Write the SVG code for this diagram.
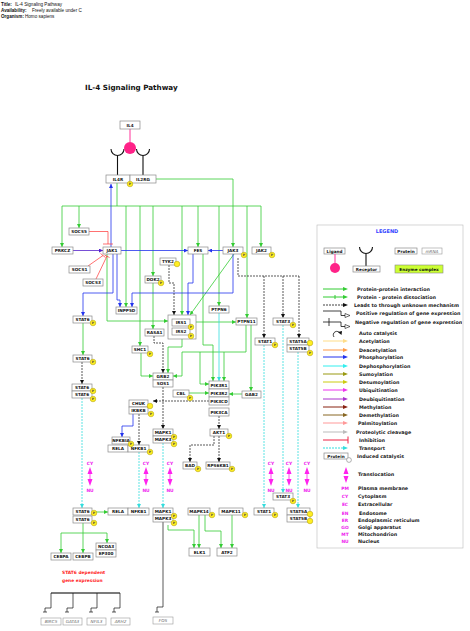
<svg xmlns="http://www.w3.org/2000/svg" width="470" height="631" viewBox="0 0 470 631">
<style>
text{font-family:"DejaVu Sans",sans-serif}
.hd{font-family:"Liberation Sans",Arial,sans-serif;font-size:4.6px;fill:#111}
.ttl{font-size:7.2px;font-weight:bold;fill:#111}
.n rect{fill:#fff;stroke:#8a8a8a;stroke-width:.7}
.n text{font-size:4.2px;font-weight:bold;text-anchor:middle;fill:#111}
.gn rect{fill:#fff;stroke:#999;stroke-width:.6}
.gn text{font-size:4.2px;font-style:italic;text-anchor:middle;fill:#666}
.pc{fill:#ffee22;stroke:#aa9900;stroke-width:.5}
.pt{font-size:3.2px;font-weight:bold;text-anchor:middle;fill:#444}
.g{fill:none;stroke:#33cc33;stroke-width:.8}
.b{fill:none;stroke:#2233ee;stroke-width:.8}
.k{fill:none;stroke:#111;stroke-width:.7;stroke-dasharray:2 1}
.c{fill:none;stroke:#33dddd;stroke-width:.8;stroke-dasharray:2 1}
.cs{fill:none;stroke:#33dddd;stroke-width:.8}
.r{fill:none;stroke:#ff3333;stroke-width:.7}
.bl{fill:none;stroke:#111;stroke-width:.7}
.m{font-size:4.4px;font-weight:bold;fill:#ee22ee;text-anchor:middle}
.lg{font-size:4.8px;font-weight:bold;fill:#222}
.tr{fill:#ff22ee}
</style>
<defs>
<marker id="ag" viewBox="0 0 4 4" refX="4" refY="2" markerWidth="4" markerHeight="4" markerUnits="userSpaceOnUse" orient="auto"><path d="M0,0L4,2L0,4z" fill="#33cc33"/></marker>
<marker id="ab" viewBox="0 0 4 4" refX="4" refY="2" markerWidth="4" markerHeight="4" markerUnits="userSpaceOnUse" orient="auto"><path d="M0,0L4,2L0,4z" fill="#2233ee"/></marker>
<marker id="ak" viewBox="0 0 4 4" refX="4" refY="2" markerWidth="4" markerHeight="4" markerUnits="userSpaceOnUse" orient="auto"><path d="M0,0L4,2L0,4z" fill="#111"/></marker>
<marker id="ac" viewBox="0 0 4 4" refX="4" refY="2" markerWidth="4" markerHeight="4" markerUnits="userSpaceOnUse" orient="auto"><path d="M0,0L4,2L0,4z" fill="#33dddd"/></marker>
<marker id="ap" viewBox="0 0 4 4" refX="4" refY="2" markerWidth="4" markerHeight="4" markerUnits="userSpaceOnUse" orient="auto"><path d="M0,0L4,2L0,4z" fill="#5522cc"/></marker>
<clipPath id="lgclip"><rect x="318" y="226" width="144" height="321"/></clipPath>
</defs>

<g id="header">
<text class="hd" x="1" y="6"><tspan font-weight="bold">Title:</tspan><tspan x="15">IL-4 Signaling Pathway</tspan></text>
<text class="hd" x="1" y="12"><tspan font-weight="bold">Availability:</tspan><tspan x="32">Freely available under C</tspan></text>
<text class="hd" x="1" y="18"><tspan font-weight="bold">Organism:</tspan><tspan x="25">Homo sapiens</tspan></text>
<text class="ttl" x="85" y="90">IL-4 Signaling Pathway</text>
</g>

<g id="connectors">
<path d="M130,129V142" stroke="#ff3399" stroke-width="1"/>
<path d="M111,149A6.5,6.5 0 0 0 124,149M117.5,155.5V175M136.5,149A6.5,6.5 0 0 0 149.5,149M143,155.5V175" fill="none" stroke="#111" stroke-width="1.1"/>
<path class="g" d="M156,179H233V247" marker-end="url(#ag)"/>
<path class="g" d="M117,183V206M62,206H261"/>
<path class="g" d="M62,206V247" marker-end="url(#ag)"/>
<path class="g" d="M79,206V228" marker-end="url(#ag)"/>
<path class="g" d="M126,206V307" marker-end="url(#ag)"/>
<path class="g" d="M140,206V346" marker-end="url(#ag)"/>
<path class="g" d="M153,206V276" marker-end="url(#ag)"/>
<path class="g" d="M182,206V315" marker-end="url(#ag)"/>
<path class="g" d="M198,206V247" marker-end="url(#ag)"/>
<path class="g" d="M219,206V306" marker-end="url(#ag)"/>
<path class="g" d="M247,206V318" marker-end="url(#ag)"/>
<path class="g" d="M261,206V247" marker-end="url(#ag)"/>
<path class="g" d="M153,283V329" marker-end="url(#ag)"/>
<path class="g" d="M107,254V321H168" marker-end="url(#ag)"/>
<path class="g" d="M234,254L190,315" marker-end="url(#ag)"/>
<path class="g" d="M196,322H236" marker-end="url(#ag)"/>
<path class="g" d="M83,323V355" marker-end="url(#ag)"/>
<path class="g" d="M141,353V376H153" marker-end="url(#ag)"/>
<path class="g" d="M182,339V347H168V373" marker-end="url(#ag)"/>
<path class="g" d="M246,325V352H182V376H173" marker-end="url(#ag)"/>
<path class="g" d="M200,352V384H209" marker-end="url(#ag)"/>
<path class="g" d="M224,352V381" marker-end="url(#ag)"/>
<path class="g" d="M203,254V345H213V381" marker-end="url(#ag)"/>
<path class="g" d="M251,325V391" marker-end="url(#ag)"/>
<path class="g" d="M189,393H209" marker-end="url(#ag)"/>
<path class="g" d="M242,394H229" marker-end="url(#ag)"/>
<path class="g" d="M96,512H108" marker-end="url(#ag)"/>
<path class="g" d="M83,523V533M61,533H107"/>
<path class="g" d="M61,533V553" marker-end="url(#ag)"/>
<path class="g" d="M83,533V553" marker-end="url(#ag)"/>
<path class="g" d="M107,533V543" marker-end="url(#ag)"/>
<path class="g" d="M168,525V530H194V548" marker-end="url(#ag)"/>
<path class="g" d="M199,515V548" marker-end="url(#ag)"/>
<path class="g" d="M205,515V531H221V548" marker-end="url(#ag)"/>
<path class="g" d="M232,515V548" marker-end="url(#ag)"/>
<path class="b" d="M111,247V184" marker-end="url(#ab)"/>
<path class="b" d="M121,250.5H188" marker-end="url(#ab)"/>
<path class="b" d="M223,250.5H208" marker-end="url(#ab)"/>
<path class="b" d="M113,254V293H83V316" marker-end="url(#ab)"/>
<path class="b" d="M117,254V300H120V307" marker-end="url(#ab)"/>
<path class="b" d="M233,254V293H132V307" marker-end="url(#ab)"/>
<path class="b" d="M193,254V283H188V315" marker-end="url(#ab)"/>
<path class="b" d="M133,414V426H122V437" marker-end="url(#ab)"/>
<path d="M73,250.5H103" fill="none" stroke="#5522cc" stroke-width=".8" marker-end="url(#ap)"/>
<path class="r" d="M89,231.5H108V244M103,244H113"/>
<path class="r" d="M88,266L103,255.5M100.5,253.5L105.5,257.5"/>
<path class="r" d="M96,279L107,256M104.5,255L109.5,257.5"/>
<path class="k" d="M169,265V283H174V315" marker-end="url(#ak)"/>
<path class="k" d="M238,258V276H299"/>
<path class="k" d="M264,276V338" marker-end="url(#ak)"/>
<path class="k" d="M283,276V318" marker-end="url(#ak)"/>
<path class="k" d="M299,276V338" marker-end="url(#ak)"/>
<path class="k" d="M154,336V343H163V373" marker-end="url(#ak)"/>
<path class="k" d="M82,362V384" marker-end="url(#ak)"/>
<path class="k" d="M163,387V429" marker-end="url(#ak)"/>
<path class="k" d="M209,401H153" marker-end="url(#ak)"/>
<path class="k" d="M219,416V429" marker-end="url(#ak)"/>
<path class="k" d="M214,436V445H190V462" marker-end="url(#ak)"/>
<path class="k" d="M219,436V462" marker-end="url(#ak)"/>
<path class="k" d="M139,414V445" marker-end="url(#ak)"/>
<path class="cs" d="M219,313V381" marker-end="url(#ac)"/>
<path class="c" d="M82,398V508" marker-end="url(#ac)"/>
<path class="c" d="M139,452V508" marker-end="url(#ac)"/>
<path class="c" d="M163,443V508" marker-end="url(#ac)"/>
<path class="c" d="M264,345V508" marker-end="url(#ac)"/>
<path class="c" d="M283,325V493" marker-end="url(#ac)"/>
<path class="c" d="M298,352V508" marker-end="url(#ac)"/>
<path class="bl" d="M163,522V607H157V612M155,612H159"/>
<path d="M51,593H120" stroke="#999" stroke-width="1.8"/>
<path d="M51,593H120" stroke="#222" stroke-width=".5"/>
<path class="bl" d="M51,593V608H45V612M43,612H47M73,593V608H67V612M65,612H69M97,593V608H91V612M89,612H93M120,593V608H114V612M112,612H116"/>
</g>

<g id="translocations">
<text class="m" x="90" y="465">CY</text><path class="tr" d="M90,467L92.5,474H87.5ZM90,486L92.5,479H87.5Z"/><path d="M90,473V480" stroke="#ff22ee" stroke-width=".8"/><text class="m" x="90" y="492">NU</text>
<text class="m" x="146" y="465">CY</text><path class="tr" d="M146,467L148.5,474H143.5ZM146,486L148.5,479H143.5Z"/><path d="M146,473V480" stroke="#ff22ee" stroke-width=".8"/><text class="m" x="146" y="492">NU</text>
<text class="m" x="170" y="465">CY</text><path class="tr" d="M170,467L172.5,474H167.5ZM170,486L172.5,479H167.5Z"/><path d="M170,473V480" stroke="#ff22ee" stroke-width=".8"/><text class="m" x="170" y="492">NU</text>
<text class="m" x="271" y="465">CY</text><path class="tr" d="M271,467L273.5,474H268.5ZM271,486L273.5,479H268.5Z"/><path d="M271,473V480" stroke="#ff22ee" stroke-width=".8"/><text class="m" x="271" y="492">NU</text>
<text class="m" x="289" y="465">CY</text><path class="tr" d="M289,467L291.5,474H286.5ZM289,486L291.5,479H286.5Z"/><path d="M289,473V480" stroke="#ff22ee" stroke-width=".8"/><text class="m" x="289" y="492">NU</text>
<text class="m" x="307" y="465">CY</text><path class="tr" d="M307,467L309.5,474H304.5ZM307,486L309.5,479H304.5Z"/><path d="M307,473V480" stroke="#ff22ee" stroke-width=".8"/><text class="m" x="307" y="492">NU</text>
</g>

<circle cx="130" cy="148" r="6" fill="#ff2288"/>
<g id="IL4" class="n"><rect x="120" y="121" width="20" height="8"/><text x="130" y="126.5">IL4</text></g>
<g id="IL4R" class="n"><rect x="106" y="175" width="24" height="8"/><text x="118" y="180.5">IL4R</text></g>
<g id="IL2RG" class="n"><rect x="130" y="175" width="26" height="8"/><text x="143" y="180.5">IL2RG</text></g>
<g id="SOCS5" class="n"><rect x="69" y="228" width="20" height="7"/><text x="79" y="233">SOCS5</text></g>
<g id="PRKCZ" class="n"><rect x="52" y="247" width="21" height="7"/><text x="62.5" y="252">PRKCZ</text></g>
<g id="JAK1" class="n"><rect x="103" y="247" width="18" height="7"/><text x="112" y="252">JAK1</text></g>
<g id="SOCS1" class="n"><rect x="69" y="266" width="21" height="7"/><text x="79.5" y="271">SOCS1</text></g>
<g id="SOCS3" class="n"><rect x="83" y="279" width="20" height="7"/><text x="93" y="284">SOCS3</text></g>
<g id="TYK2" class="n"><rect x="160" y="258" width="16" height="7"/><text x="168" y="263">TYK2</text></g>
<g id="DOK2" class="n"><rect x="145" y="276" width="16" height="7"/><text x="153" y="281">DOK2</text></g>
<g id="FES" class="n"><rect x="188" y="247" width="20" height="7"/><text x="198" y="252">FES</text></g>
<g id="JAK3" class="n"><rect x="223" y="247" width="20" height="7"/><text x="233" y="252">JAK3</text></g>
<g id="JAK2" class="n"><rect x="252" y="247" width="19" height="7"/><text x="261.5" y="252">JAK2</text></g>
<g id="INPP5D" class="n"><rect x="116" y="307" width="21" height="7"/><text x="126.5" y="312">INPP5D</text></g>
<g id="STAT6-1" class="n"><rect x="73" y="316" width="19" height="7"/><text x="82.5" y="321">STAT6</text></g>
<g id="IRS" class="n"><rect x="168" y="315" width="28" height="24"/><rect x="172" y="319" width="18" height="7"/><text x="181" y="324">IRS1</text><rect x="172" y="328" width="18" height="7"/><text x="181" y="333">IRS2</text></g>
<g id="PTPN6" class="n"><rect x="209" y="306" width="20" height="7"/><text x="219" y="311">PTPN6</text></g>
<g id="PTPN11" class="n"><rect x="236" y="318" width="21" height="7"/><text x="246.5" y="323">PTPN11</text></g>
<g id="STAT3-1" class="n"><rect x="273" y="318" width="20" height="7"/><text x="283" y="323">STAT3</text></g>
<g id="RASA1" class="n"><rect x="145" y="329" width="19" height="7"/><text x="154.5" y="334">RASA1</text></g>
<g id="STAT1-1" class="n"><rect x="255" y="338" width="20" height="7"/><text x="265" y="343">STAT1</text></g>
<g id="STAT5-1" class="n"><rect x="287" y="338" width="22" height="7"/><text x="298" y="343">STAT5A</text><rect x="287" y="345" width="22" height="7"/><text x="298" y="350">STAT5B</text></g>
<g id="SHC1" class="n"><rect x="132" y="346" width="16" height="7"/><text x="140" y="351">SHC1</text></g>
<g id="STAT6-2" class="n"><rect x="73" y="355" width="19" height="7"/><text x="82.5" y="360">STAT6</text></g>
<g id="GRB2-SOS1" class="n"><rect x="153" y="373" width="20" height="7"/><text x="163" y="378">GRB2</text><rect x="153" y="380" width="20" height="7"/><text x="163" y="385">SOS1</text></g>
<g id="STAT6-3" class="n"><rect x="72" y="384" width="20" height="7"/><text x="82" y="389">STAT6</text><rect x="72" y="391" width="20" height="7"/><text x="82" y="396">STAT6</text></g>
<g id="PIK3" class="n"><rect x="209" y="381" width="20" height="8"/><text x="219" y="386.5">PIK3R1</text><rect x="209" y="389" width="20" height="8"/><text x="219" y="394.5">PIK3R2</text><rect x="209" y="397" width="20" height="8"/><text x="219" y="402.5">PIK3CD</text><rect x="209" y="408" width="20" height="8"/><text x="219" y="413.5">PIK3CA</text></g>
<g id="CBL" class="n"><rect x="173" y="390" width="16" height="7"/><text x="181" y="395">CBL</text></g>
<g id="GAB2" class="n"><rect x="242" y="391" width="19" height="7"/><text x="251.5" y="396">GAB2</text></g>
<g id="IKK" class="n"><rect x="129" y="400" width="19" height="7"/><text x="138.5" y="405">CHUK</text><rect x="129" y="407" width="19" height="7"/><text x="138.5" y="412">IKBKB</text></g>
<g id="MAPK-1" class="n"><rect x="153" y="429" width="20" height="7"/><text x="163" y="434">MAPK1</text><rect x="153" y="436" width="20" height="7"/><text x="163" y="441">MAPK3</text></g>
<g id="AKT1" class="n"><rect x="210" y="429" width="18" height="7"/><text x="219" y="434">AKT1</text></g>
<g id="NFKBIA" class="n"><rect x="112" y="437" width="18" height="7"/><text x="121" y="442">NFKBIA</text></g>
<g id="NFKB-1" class="n"><rect x="108" y="445" width="20" height="7"/><text x="118" y="450">RELA</text><rect x="128" y="445" width="21" height="7"/><text x="138.5" y="450">NFKB1</text></g>
<g id="BAD" class="n"><rect x="183" y="462" width="14" height="7"/><text x="190" y="467">BAD</text></g>
<g id="RPS6KB1" class="n"><rect x="206" y="462" width="24" height="7"/><text x="218" y="467">RPS6KB1</text></g>
<g id="STAT3-2" class="n"><rect x="273" y="493" width="20" height="7"/><text x="283" y="498">STAT3</text></g>
<g id="STAT6-4" class="n"><rect x="73" y="508" width="19" height="7"/><text x="82.5" y="513">STAT6</text><rect x="73" y="516" width="19" height="7"/><text x="82.5" y="521">STAT6</text></g>
<g id="NFKB-2" class="n"><rect x="108" y="508" width="20" height="7"/><text x="118" y="513">RELA</text><rect x="128" y="508" width="21" height="7"/><text x="138.5" y="513">NFKB1</text></g>
<g id="MAPK-2" class="n"><rect x="153" y="508" width="20" height="7"/><text x="163" y="513">MAPK1</text><rect x="153" y="515" width="20" height="7"/><text x="163" y="520">MAPK3</text></g>
<g id="MAPK14" class="n"><rect x="188" y="508" width="22" height="7"/><text x="199" y="513">MAPK14</text></g>
<g id="MAPK11" class="n"><rect x="219" y="508" width="24" height="7"/><text x="231" y="513">MAPK11</text></g>
<g id="STAT1-2" class="n"><rect x="254" y="508" width="20" height="7"/><text x="264" y="513">STAT1</text></g>
<g id="STAT5-2" class="n"><rect x="287" y="508" width="23" height="7"/><text x="298.5" y="513">STAT5A</text><rect x="287" y="515" width="23" height="7"/><text x="298.5" y="520">STAT5B</text></g>
<g id="ELK1" class="n"><rect x="189" y="548" width="21" height="8"/><text x="199.5" y="553.5">ELK1</text></g>
<g id="ATF2" class="n"><rect x="217" y="548" width="20" height="8"/><text x="227" y="553.5">ATF2</text></g>
<g id="NCOA3-EP300" class="n"><rect x="96" y="543" width="20" height="7"/><text x="106" y="548">NCOA3</text><rect x="96" y="550" width="20" height="7"/><text x="106" y="555">EP300</text></g>
<g id="CEBPA" class="n"><rect x="51" y="553" width="20" height="7"/><text x="61" y="558">CEBPA</text></g>
<g id="CEBPB" class="n"><rect x="73" y="553" width="20" height="7"/><text x="83" y="558">CEBPB</text></g>
<g id="BIRC5" class="gn"><rect x="41" y="618" width="20" height="7"/><text x="51" y="623">BIRC5</text></g>
<g id="GATA3" class="gn"><rect x="63" y="618" width="19" height="7"/><text x="72.5" y="623">GATA3</text></g>
<g id="NFIL3" class="gn"><rect x="87" y="618" width="19" height="7"/><text x="96.5" y="623">NFIL3</text></g>
<g id="ARH2" class="gn"><rect x="111" y="618" width="19" height="7"/><text x="120.5" y="623">ARH2</text></g>
<g id="FOS" class="gn"><rect x="153" y="617" width="20" height="7"/><text x="163" y="622">FOS</text></g>
<text x="62" y="574" font-size="4.4" font-weight="bold" fill="#ff2222">STAT6 dependent</text>
<text x="62" y="582" font-size="4.4" font-weight="bold" fill="#ff2222">gene expression</text>

<g id="phospho">
<circle class="pc" cx="130" cy="184" r="2.8"/><text class="pt" x="130" y="185.2">P</text>
<circle class="pc" cx="177" cy="264" r="2.8"/>
<circle class="pc" cx="161" cy="283" r="2.8"/><text class="pt" x="161" y="284.2">P</text>
<circle class="pc" cx="244" cy="255" r="2.8"/><text class="pt" x="244" y="256.2">P</text>
<circle class="pc" cx="272" cy="255" r="2.8"/><text class="pt" x="272" y="256.2">P</text>
<circle class="pc" cx="93" cy="323" r="2.8"/><text class="pt" x="93" y="324.2">P</text>
<circle class="pc" cx="191" cy="327" r="2.8"/><text class="pt" x="191" y="328.2">P</text>
<circle class="pc" cx="191" cy="336" r="2.8"/><text class="pt" x="191" y="337.2">P</text>
<circle class="pc" cx="293" cy="325" r="2.8"/><text class="pt" x="293" y="326.2">P</text>
<circle class="pc" cx="275" cy="345" r="2.8"/><text class="pt" x="275" y="346.2">P</text>
<circle class="pc" cx="310" cy="343" r="2.8"/>
<circle class="pc" cx="310" cy="353" r="2.8"/><text class="pt" x="310" y="354.2">P</text>
<circle class="pc" cx="150" cy="354" r="2.8"/><text class="pt" x="150" y="355.2">P</text>
<circle class="pc" cx="93" cy="362" r="2.8"/><text class="pt" x="93" y="363.2">P</text>
<circle class="pc" cx="93" cy="391" r="2.8"/><text class="pt" x="93" y="392.2">P</text>
<circle class="pc" cx="93" cy="399" r="2.8"/><text class="pt" x="93" y="400.2">P</text>
<circle class="pc" cx="190" cy="398" r="2.8"/><text class="pt" x="190" y="399.2">P</text>
<circle class="pc" cx="150" cy="406" r="2.8"/>
<circle class="pc" cx="151" cy="414" r="2.8"/><text class="pt" x="151" y="415.2">P</text>
<circle class="pc" cx="174" cy="437" r="2.8"/><text class="pt" x="174" y="438.2">P</text>
<circle class="pc" cx="174" cy="444" r="2.8"/><text class="pt" x="174" y="445.2">P</text>
<circle class="pc" cx="229" cy="436" r="2.8"/><text class="pt" x="229" y="437.2">P</text>
<circle class="pc" cx="131" cy="444" r="2.8"/><text class="pt" x="131" y="445.2">P</text>
<circle class="pc" cx="150" cy="452" r="2.8"/><text class="pt" x="150" y="453.2">P</text>
<circle class="pc" cx="198" cy="469" r="2.8"/><text class="pt" x="198" y="470.2">P</text>
<circle class="pc" cx="232" cy="469" r="2.8"/><text class="pt" x="232" y="470.2">P</text>
<circle class="pc" cx="293" cy="501" r="2.8"/><text class="pt" x="293" y="502.2">P</text>
<circle class="pc" cx="94" cy="513" r="2.8"/><text class="pt" x="94" y="514.2">P</text>
<circle class="pc" cx="94" cy="523" r="2.8"/><text class="pt" x="94" y="524.2">P</text>
<circle class="pc" cx="174" cy="516" r="2.8"/><text class="pt" x="174" y="517.2">P</text>
<circle class="pc" cx="174" cy="523" r="2.8"/><text class="pt" x="174" y="524.2">P</text>
<circle class="pc" cx="212" cy="515" r="2.8"/><text class="pt" x="212" y="516.2">P</text>
<circle class="pc" cx="245" cy="515" r="2.8"/><text class="pt" x="245" y="516.2">P</text>
<circle class="pc" cx="275" cy="515" r="2.8"/><text class="pt" x="275" y="516.2">P</text>
<circle class="pc" cx="310" cy="514" r="2.8"/>
<circle class="pc" cx="310" cy="521" r="2.8"/>
</g>

<g id="legend">
<rect x="317" y="225" width="146" height="323" fill="#fff" stroke="#bbb" stroke-width=".6"/>
<g clip-path="url(#lgclip)">
<text x="387" y="233" font-size="5" font-weight="bold" fill="#3344ff" text-anchor="middle">LEGEND</text>
<g class="n"><rect x="324" y="248" width="21" height="6"/><text x="334.5" y="252.5">Ligand</text></g>
<path d="M335,254V263" stroke="#ff3399" stroke-width="1"/><circle cx="335" cy="268" r="5" fill="#ff2288"/>
<path d="M359.5,247A6.5,6.5 0 0 0 372.5,247M366,253.5V266" fill="none" stroke="#111" stroke-width="1.1"/>
<g class="n"><rect x="353" y="266" width="27" height="6"/><text x="366.5" y="270.5">Receptor</text></g>
<g class="n"><rect x="395" y="248" width="22" height="6"/><text x="406" y="252.5">Protein</text></g>
<g class="gn"><rect x="422" y="248" width="20" height="6"/><text x="432" y="252.5" font-style="normal">mRNA</text></g>
<rect x="395" y="265" width="48" height="8" fill="#ccff33" stroke="#888" stroke-width=".6"/>
<text x="419" y="270.5" font-size="4.2" font-weight="bold" text-anchor="middle" fill="#111">Enzyme complex</text>

<path d="M323,289H344" stroke="#33cc33" stroke-width="1"/><path d="M343,287L348,289L343,291Z" fill="#33cc33"/>
<path d="M323,297H344M335,295V299" stroke="#33cc33" stroke-width="1"/><path d="M343,295L348,297L343,299Z" fill="#33cc33"/>
<path d="M323,305H344" stroke="#111" stroke-width=".8" stroke-dasharray="2 1"/><path d="M343,303L348,305L343,307Z" fill="#111"/>
<path d="M323,311H341V315.5H345" fill="none" stroke="#111" stroke-width=".8"/><path d="M345,313.5L350,315.5L345,317.5Z" fill="#fff" stroke="#111" stroke-width=".6"/>
<path d="M323,322H341V326.5H345M329,318V326" fill="none" stroke="#111" stroke-width=".8"/><path d="M345,324.5L350,326.5L345,328.5Z" fill="#fff" stroke="#111" stroke-width=".6"/>
<path d="M334,337A3.5,3.5 0 1 1 340,333.5" fill="none" stroke="#111" stroke-width=".8"/><path d="M338,332L341.5,335L342,331Z" fill="#111"/>
<path d="M323,341H344" stroke="#ffdd88" stroke-width="1"/><path d="M343,339L348,341L343,343Z" fill="#ffdd88"/>
<path d="M323,350H344" stroke="#ff9944" stroke-width="1"/><path d="M343,348L348,350L343,352Z" fill="#ff9944"/>
<path d="M323,357H344" stroke="#2233ee" stroke-width="1"/><path d="M343,355L348,357L343,359Z" fill="#2233ee"/>
<path d="M323,366H344" stroke="#33eeee" stroke-width="1"/><path d="M343,364L348,366L343,368Z" fill="#33eeee"/>
<path d="M323,374H344" stroke="#999911" stroke-width="1"/><path d="M343,372L348,374L343,376Z" fill="#999911"/>
<path d="M323,382H344" stroke="#cccc11" stroke-width="1"/><path d="M343,380L348,382L343,384Z" fill="#cccc11"/>
<path d="M323,390H344" stroke="#ee33ee" stroke-width="1"/><path d="M343,388L348,390L343,392Z" fill="#ee33ee"/>
<path d="M323,399H344" stroke="#aa33cc" stroke-width="1"/><path d="M343,397L348,399L343,401Z" fill="#aa33cc"/>
<path d="M323,407H344" stroke="#882211" stroke-width="1"/><path d="M343,405L348,407L343,409Z" fill="#882211"/>
<path d="M323,415H344" stroke="#886622" stroke-width="1"/><path d="M343,413L348,415L343,417Z" fill="#886622"/>
<path d="M323,423H344" stroke="#ff9999" stroke-width="1"/><path d="M343,421L348,423L343,425Z" fill="#ff9999"/>
<path d="M323,432H344" stroke="#bbbbbb" stroke-width="1"/><path d="M343,430L348,432L343,434Z" fill="#bbbbbb"/>
<path d="M323,440H348M348,436.5V443.5" stroke="#ee2244" stroke-width="1"/>
<path d="M323,448H344" stroke="#33dddd" stroke-width="1" stroke-dasharray="2 1"/><path d="M343,446L348,448L343,450Z" fill="#33dddd"/>
<g class="n"><rect x="324" y="453" width="24" height="6"/><text x="336" y="457.5">Protein</text></g>
<circle cx="349" cy="460" r="2.4" fill="#fff" stroke="#666" stroke-width=".5"/>
<path class="tr" d="M346,467L348.5,474H343.5ZM346,483L348.5,476H343.5Z"/>

<text class="lg" x="357" y="290.6">Protein-protein interaction</text>
<text class="lg" x="357" y="298.6">Protein - protein dissociation</text>
<text class="lg" x="354" y="306.6">Leads to through unknown mechanism</text>
<text class="lg" x="356" y="314.6">Positive regulation of gene expression</text>
<text class="lg" x="355" y="323.6">Negative regulation of gene expression</text>
<text class="lg" x="359" y="334.6">Auto catalysis</text>
<text class="lg" x="359" y="342.6">Acetylation</text>
<text class="lg" x="359" y="351.6">Deacetylation</text>
<text class="lg" x="359" y="358.6">Phosphorylation</text>
<text class="lg" x="359" y="367.6">Dephosphorylation</text>
<text class="lg" x="359" y="375.6">Sumoylation</text>
<text class="lg" x="359" y="383.6">Desumoylation</text>
<text class="lg" x="359" y="391.6">Ubiquitination</text>
<text class="lg" x="359" y="400.6">Deubiquitination</text>
<text class="lg" x="359" y="408.6">Methylation</text>
<text class="lg" x="359" y="416.6">Demethylation</text>
<text class="lg" x="358" y="424.6">Palmitoylation</text>
<text class="lg" x="356" y="433.6">Proteolytic cleavage</text>
<text class="lg" x="359" y="441.6">Inhibition</text>
<text class="lg" x="359" y="449.6">Transport</text>
<text class="lg" x="357" y="457.6">Induced catalysis</text>
<text class="lg" x="358" y="475.6">Translocation</text>
<text class="m" x="345" y="489.6">PM</text><text class="lg" x="358" y="489.6">Plasma membrane</text>
<text class="m" x="345" y="497.6">CY</text><text class="lg" x="358" y="497.6">Cytoplasm</text>
<text class="m" x="345" y="505.6">EC</text><text class="lg" x="358" y="505.6">Extracellular</text>
<text class="m" x="345" y="514.6">EN</text><text class="lg" x="359" y="514.6">Endosome</text>
<text class="m" x="345" y="521.6">ER</text><text class="lg" x="358" y="521.6">Endoplasmic reticulum</text>
<text class="m" x="345" y="528.6">GO</text><text class="lg" x="358" y="528.6">Golgi apparatus</text>
<text class="m" x="345" y="535.6">MT</text><text class="lg" x="358" y="535.6">Mitochondrion</text>
<text class="m" x="345" y="542.6">NU</text><text class="lg" x="358" y="542.6">Nucleus</text>
</g>
</g>
</svg>
